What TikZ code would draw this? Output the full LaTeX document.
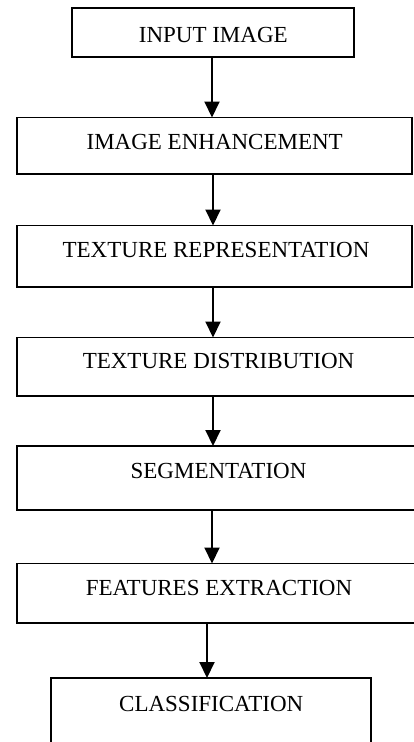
\documentclass[tikz,border=0pt]{standalone}
\usepackage{fontspec}
\setmainfont{Liberation Serif}
\usetikzlibrary{arrows.meta}
\begin{document}
\begin{tikzpicture}[x=1pt,y=-1pt,
  boxnode/.style={draw, line width=1.8pt, inner sep=0pt, outer sep=0pt, anchor=north west},
  lbl/.style={anchor=base, inner sep=0pt, font=\fontsize{23}{27}\selectfont},
  arr/.style={line width=2pt, -{Triangle[length=16pt,width=15pt]}}]
\useasboundingbox (0,0) rectangle (414,742);
\clip (0,0) rectangle (414,742);
% boxes
\node[boxnode, minimum width=282pt, minimum height=49pt] (b1) at (72,8) {};
\node[boxnode, minimum width=395pt, minimum height=56.5pt] (b2) at (17,117.5) {};
\node[boxnode, minimum width=395pt, minimum height=61.5pt] (b3) at (17,225.5) {};
\node[boxnode, minimum width=403pt, minimum height=58.5pt] (b4) at (17,337.5) {};
\node[boxnode, minimum width=403pt, minimum height=64pt] (b5) at (17,446) {};
\node[boxnode, minimum width=403pt, minimum height=59.5pt] (b6) at (17,563.5) {};
\node[boxnode, minimum width=320pt, minimum height=100pt] (b7) at (51,678) {};
% labels
\node[lbl] (t1) at (213.3,42.5) {INPUT IMAGE};
\node[lbl] (t2) at (214.7,149) {IMAGE ENHANCEMENT};
\node[lbl] (t3) at (216,257) {TEXTURE REPRESENTATION};
\node[lbl] (t4) at (218.5,368.5) {TEXTURE DISTRIBUTION};
\node[lbl] (t5) at (218.5,478.5) {SEGMENTATION};
\node[lbl] (t6) at (219,595.5) {FEATURES EXTRACTION};
\node[lbl] (t7) at (211.2,711) {CLASSIFICATION};
% arrow columns
\coordinate (x1) at (212,0);
\coordinate (x2) at (213,0);
\coordinate (x3) at (213,0);
\coordinate (x4) at (213,0);
\coordinate (x5) at (212,0);
\coordinate (x6) at (207,0);
\draw[arr] (b1.south -| x1) -- (b2.north -| x1);
\draw[arr] (b2.south -| x2) -- (b3.north -| x2);
\draw[arr] (b3.south -| x3) -- (b4.north -| x3);
\draw[arr] (b4.south -| x4) -- (b5.north -| x4);
\draw[arr] (b5.south -| x5) -- (b6.north -| x5);
\draw[arr] (b6.south -| x6) -- (b7.north -| x6);
\end{tikzpicture}
\end{document}
